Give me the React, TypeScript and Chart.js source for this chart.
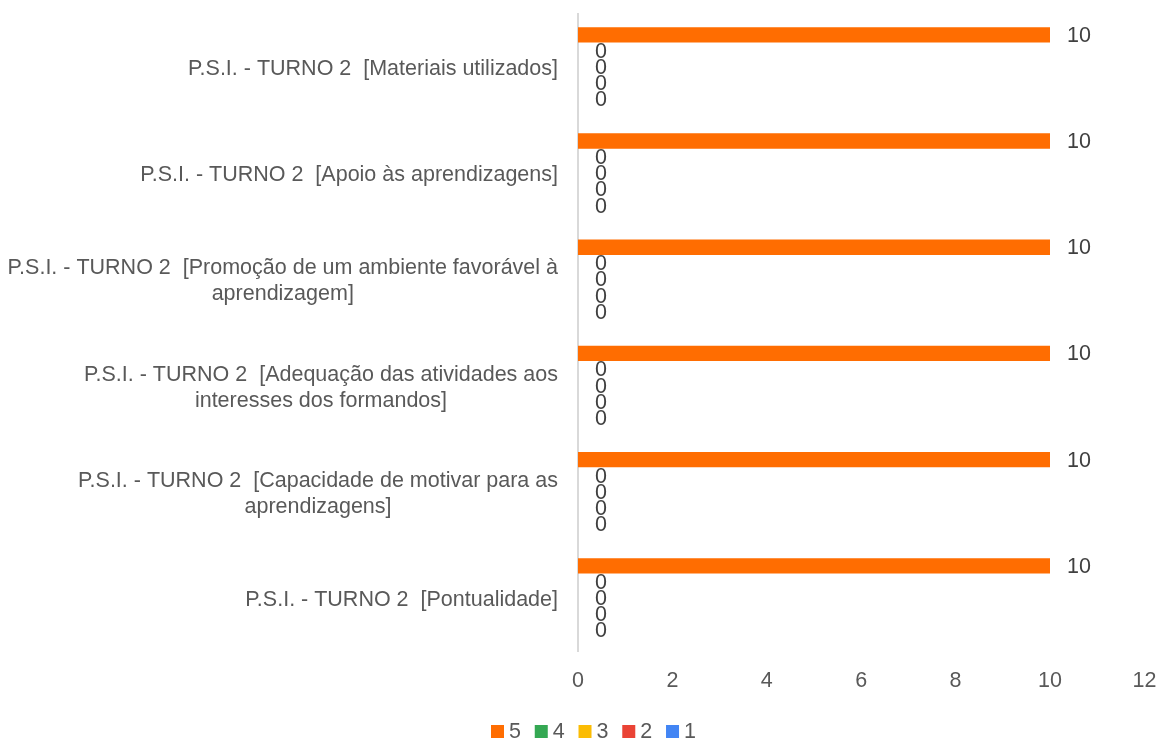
import React, { useEffect, useRef } from "react";
import { Chart, registerables } from "chart.js";

Chart.register(...registerables);

const categories: string[][] = [
  ["P.S.I. - TURNO 2  [Materiais utilizados]"],
  ["P.S.I. - TURNO 2  [Apoio às aprendizagens]"],
  ["P.S.I. - TURNO 2  [Promoção de um ambiente favorável à", "aprendizagem]"],
  ["P.S.I. - TURNO 2  [Adequação das atividades aos", "interesses dos formandos]"],
  ["P.S.I. - TURNO 2  [Capacidade de motivar para as", "aprendizagens]"],
  ["P.S.I. - TURNO 2  [Pontualidade]"],
];

const seriesNames = ["5", "4", "3", "2", "1"];
const seriesColors = ["#FF6D01", "#34A853", "#FBBC04", "#EA4335", "#4285F4"];
const values5 = [10, 10, 10, 10, 10, 10];
const values4 = [0, 0, 0, 0, 0, 0];
const values3 = [0, 0, 0, 0, 0, 0];
const values2 = [0, 0, 0, 0, 0, 0];
const values1 = [0, 0, 0, 0, 0, 0];
const xTicks = [0, 2, 4, 6, 8, 10, 12];

const FONT = "'Liberation Sans', Arial, sans-serif";
const FS = 21.5;
const TEXT = "#595959";

const labelsPlugin = {
  id: "customLabels",
  afterDraw(chart: any) {
    const ctx = chart.ctx;
    const yScale = chart.scales.y;
    const area = chart.chartArea;
    ctx.save();
    // category labels (block right-aligned, lines centered)
    ctx.font = `${FS}px ${FONT}`;
    ctx.fillStyle = TEXT;
    ctx.textBaseline = "middle";
    ctx.textAlign = "center";
    const lineH = 26;
    categories.forEach((lines, i) => {
      const y = yScale.getPixelForValue(i) + 2;
      const widths = lines.map((l) => ctx.measureText(l).width);
      const bw = Math.max(...widths);
      const right = area.left - 20;
      const cx = right - bw / 2;
      const startY = y - ((lines.length - 1) * lineH) / 2;
      lines.forEach((l, j) => ctx.fillText(l, cx, startY + j * lineH));
    });
    // data labels
    ctx.fillStyle = "#404040";
    ctx.textAlign = "left";
    chart.data.datasets.forEach((ds: any, di: number) => {
      const meta = chart.getDatasetMeta(di);
      meta.data.forEach((el: any, i: number) => {
        ctx.fillText(String(ds.data[i]), el.x + 17, el.y + 1);
      });
    });
    // legend
    ctx.fillStyle = TEXT;
    let x = 491;
    const boxY = 725;
    chart.data.datasets.forEach((ds: any) => {
      ctx.fillStyle = ds.backgroundColor;
      ctx.fillRect(x, boxY, 13, 13);
      ctx.fillStyle = TEXT;
      ctx.textAlign = "left";
      ctx.fillText(ds.label, x + 18, boxY + 7);
      x += 18 + ctx.measureText(ds.label).width + 13.8;
    });
    ctx.restore();
  },
};

export default function App() {
  const ref = useRef<HTMLCanvasElement>(null);
  useEffect(() => {
    if (!ref.current) return;
    const allValues = [values5, values4, values3, values2, values1];
    const chart = new Chart(ref.current, {
      type: "bar",
      data: {
        labels: categories.map((c) => c.join(" ")),
        datasets: seriesNames.map((n, i) => ({
          label: n,
          data: allValues[i],
          backgroundColor: seriesColors[i],
          borderWidth: 0,
          categoryPercentage: 0.76,
          barPercentage: 0.95,
        })),
      },
      options: {
        indexAxis: "y",
        animation: false,
        responsive: true,
        maintainAspectRatio: false,
        layout: { padding: { top: 14, right: 0, bottom: 29, left: 0 } },
        plugins: {
          legend: { display: false },
          tooltip: { enabled: false },
        },
        scales: {
          x: {
            min: 0,
            max: 12,
            afterBuildTicks: (s: any) => {
              s.ticks = xTicks.map((v) => ({ value: v }));
            },
            afterFit: (s: any) => {
              s.paddingRight = 16.6;
            },
            grid: { display: false, drawTicks: false },
            border: { display: false },
            ticks: {
              font: { family: FONT, size: FS },
              color: TEXT,
              padding: 17,
            },
          },
          y: {
            grid: { display: false, drawTicks: false },
            border: { display: true, color: "#D9D9D9", width: 2 },
            ticks: { display: false },
            afterFit: (s: any) => {
              s.width = 578;
            },
          },
        },
      },
      plugins: [labelsPlugin],
    } as any);
    return () => chart.destroy();
  }, []);
  return (
    <div style={{ position: "absolute", left: 0, top: 0, width: 1161, height: 740 }}>
      <canvas ref={ref} />
    </div>
  );
}
